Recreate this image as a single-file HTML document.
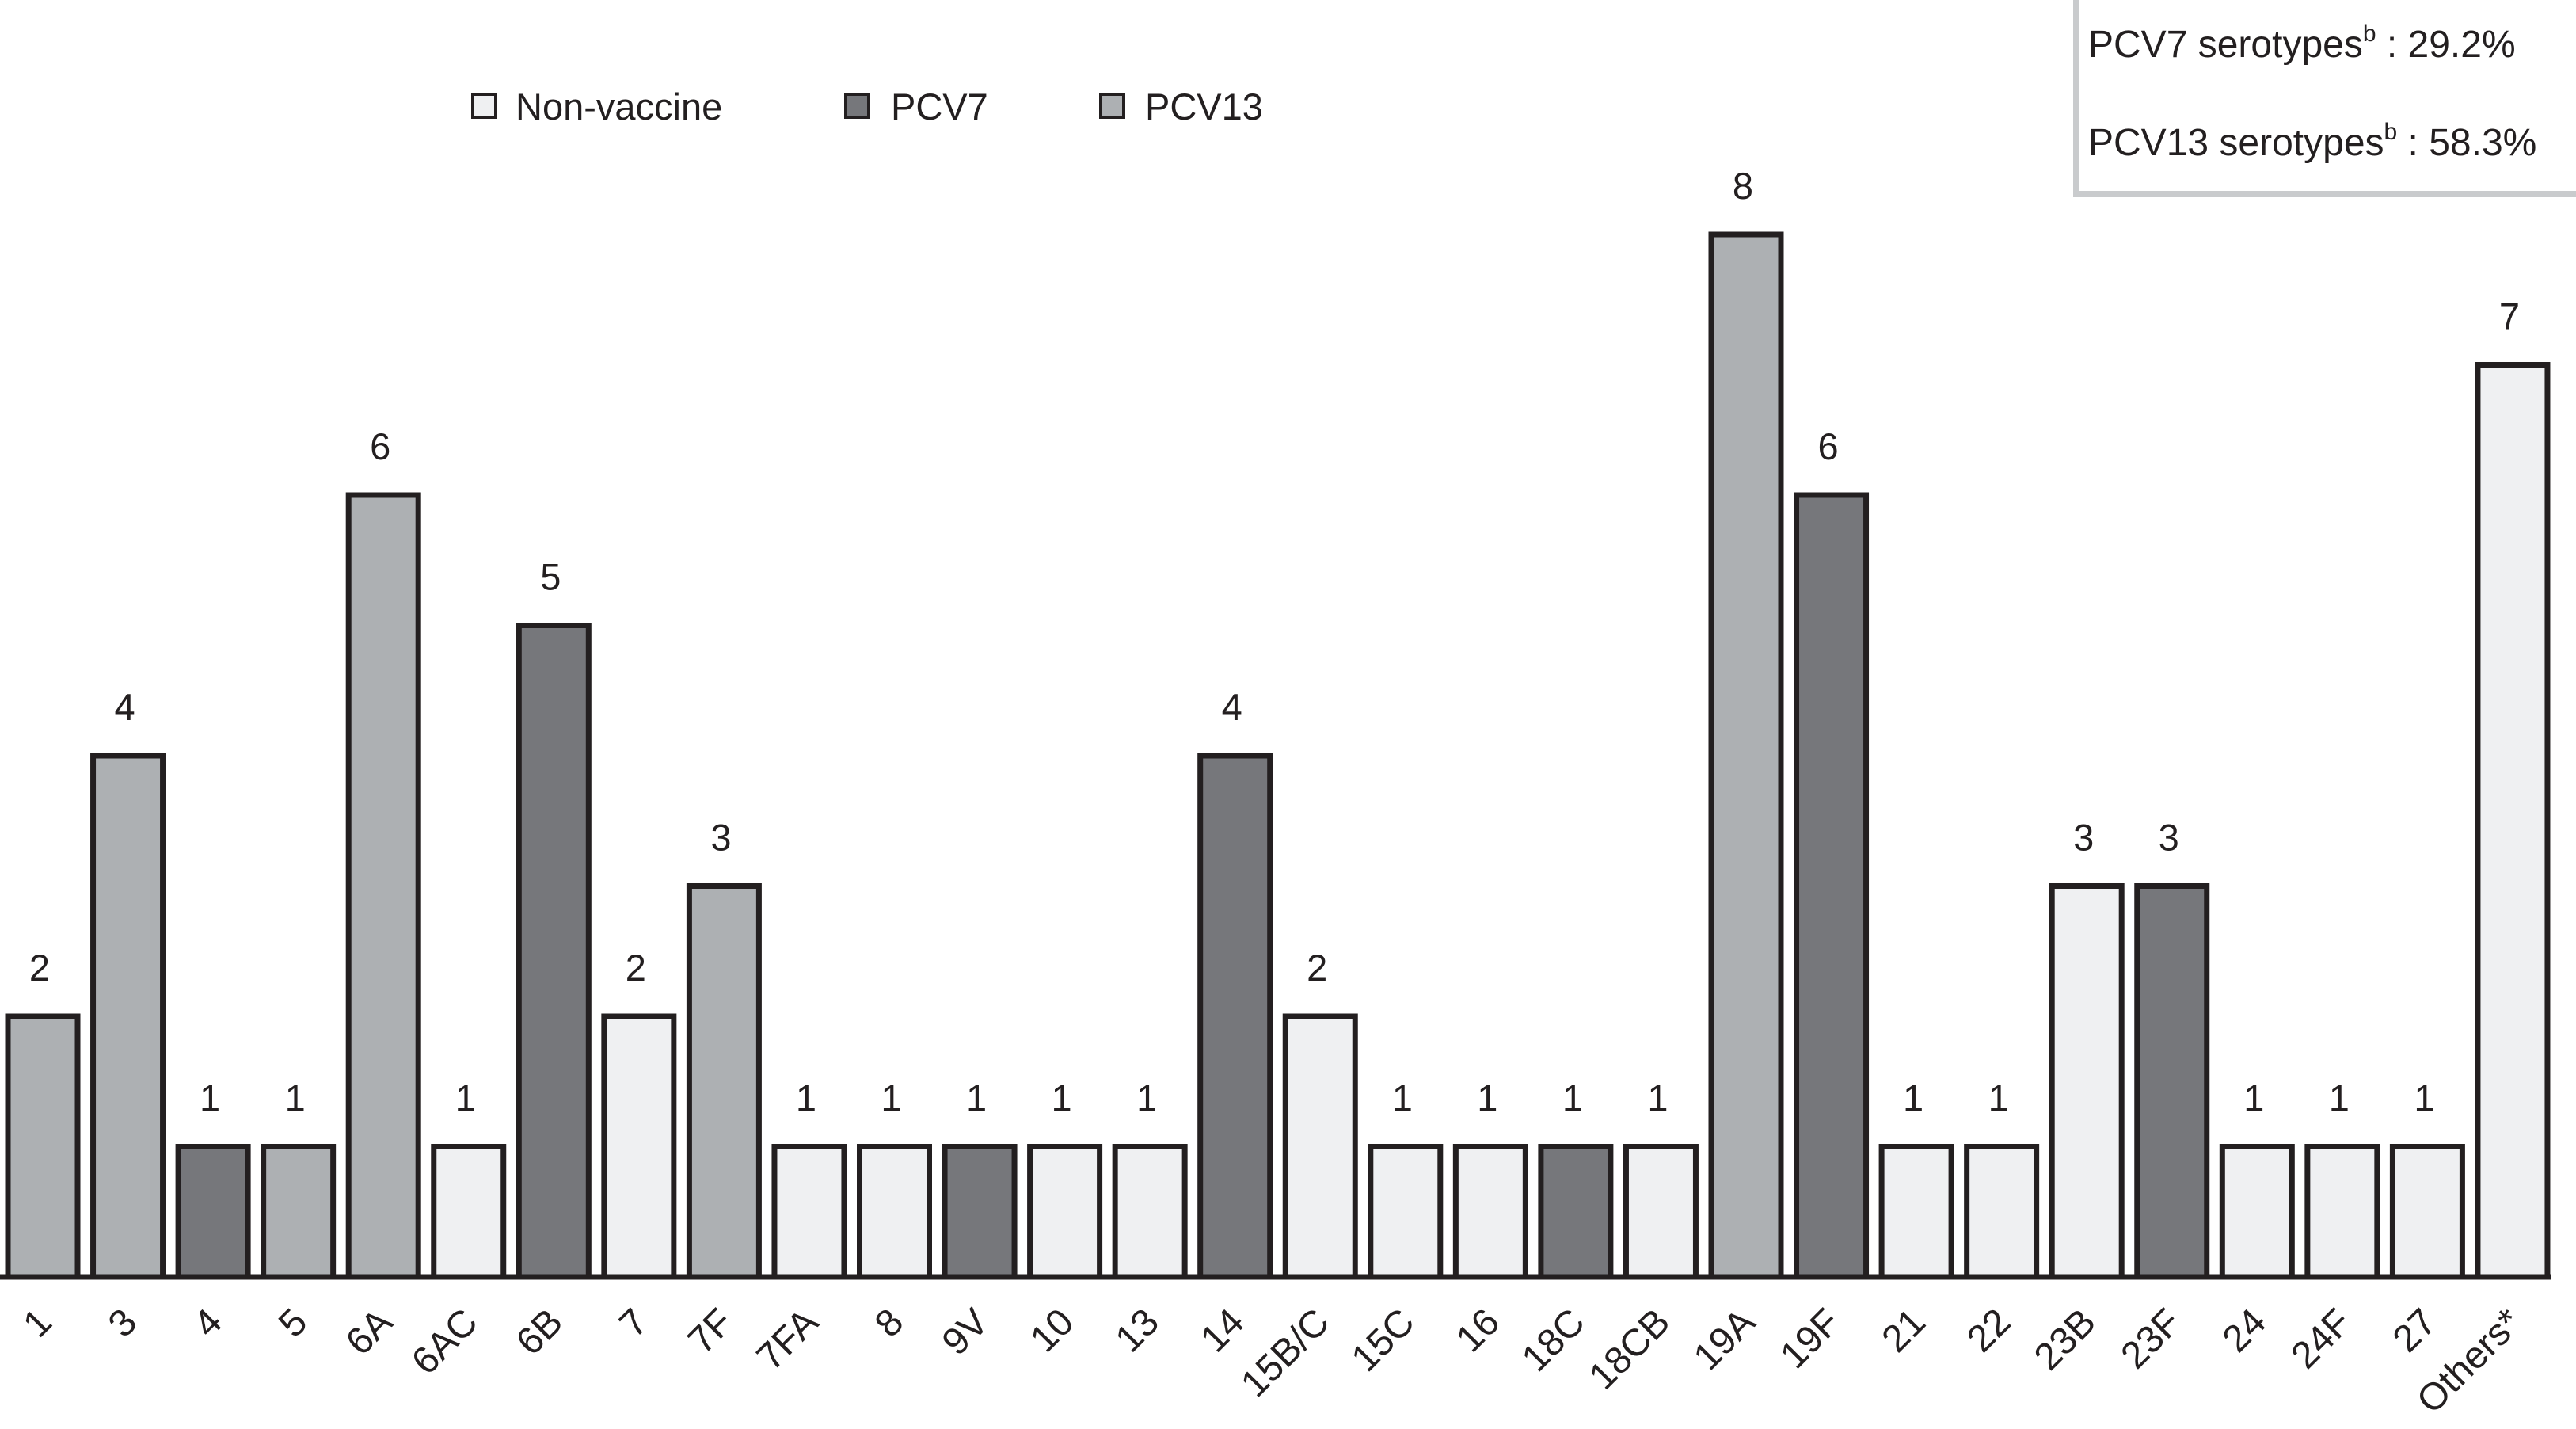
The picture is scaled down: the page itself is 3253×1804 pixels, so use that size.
<!DOCTYPE html>
<html><head><meta charset="utf-8"><style>
html,body{margin:0;padding:0;background:#fff;}
svg{display:block;font-family:"Liberation Sans",Arial,sans-serif;}
</style></head><body>
<svg id="chart" width="3253" height="1804" viewBox="0 0 3253 1804">
  <g>
    <rect x="597" y="119" width="29" height="29" fill="#eff0f2" stroke="#231f20" stroke-width="4"/>
    <text x="651" y="151" font-size="47" fill="#231f20">Non-vaccine</text>
    <rect x="1068" y="119" width="29" height="29" fill="#76777b" stroke="#231f20" stroke-width="4"/>
    <text x="1125" y="151" font-size="47" fill="#231f20">PCV7</text>
    <rect x="1390" y="119" width="29" height="29" fill="#adb0b3" stroke="#231f20" stroke-width="4"/>
    <text x="1446" y="151" font-size="47" fill="#231f20">PCV13</text>
  </g>
  <g>
    <rect x="2622" y="-10" width="650" height="255" fill="#fff" stroke="#c9cbcd" stroke-width="8"/>
    <text x="2637" y="72" font-size="48" fill="#231f20">PCV7 serotypes<tspan font-size="30" dy="-20">b</tspan><tspan dy="20"> : 29.2%</tspan></text>
    <text x="2637" y="196" font-size="48" fill="#231f20">PCV13 serotypes<tspan font-size="30" dy="-20">b</tspan><tspan dy="20"> : 58.3%</tspan></text>
  </g>
  <g id="bars"></g>
  <g id="labels"></g>
  <line x1="0" y1="1612" x2="3222" y2="1612" stroke="#231f20" stroke-width="7"/>
</svg>
<script>
const categories = ["1","3","4","5","6A","6AC","6B","7","7F","7FA","8","9V","10","13","14","15B/C","15C","16","18C","18CB","19A","19F","21","22","23B","23F","24","24F","27","Others*"];
const values = [2,4,1,1,6,1,5,2,3,1,1,1,1,1,4,2,1,1,1,1,8,6,1,1,3,3,1,1,1,7];
const groups = ["PCV13","PCV13","PCV7","PCV13","PCV13","Non","PCV7","Non","PCV13","Non","Non","PCV7","Non","Non","PCV7","Non","Non","Non","PCV7","Non","PCV13","PCV7","Non","Non","Non","PCV7","Non","Non","Non","Non"];
const fills = {PCV13:"#adb0b3", PCV7:"#76777b", Non:"#eff0f2"};
const NS = "http://www.w3.org/2000/svg";
const baseY = 1612, unit = 164.5, x0 = 54, pitch = 107.55, bw = 88;
function xScale(i){ return x0 + i*pitch; }
function yScale(v){ return baseY - v*unit; }
const gb = document.getElementById('bars');
const gl = document.getElementById('labels');
categories.forEach((c,i)=>{
  const cx = xScale(i), top = yScale(values[i]);
  const r = document.createElementNS(NS,'rect');
  r.setAttribute('x', cx - bw/2);
  r.setAttribute('y', top);
  r.setAttribute('width', bw);
  r.setAttribute('height', baseY - top);
  r.setAttribute('fill', fills[groups[i]]);
  r.setAttribute('stroke', '#231f20');
  r.setAttribute('stroke-width', '7');
  
  
  gb.appendChild(r);
  const t = document.createElementNS(NS,'text');
  t.setAttribute('x', cx - 4);
  t.setAttribute('y', top - 45);
  t.setAttribute('text-anchor', 'middle');
  t.setAttribute('font-size', '47');
  t.setAttribute('fill', '#231f20');
  t.textContent = values[i];
  
  
  gb.appendChild(t);
  const lx = cx + 14, ly = 1672;
  const l = document.createElementNS(NS,'text');
  l.setAttribute('x', lx);
  l.setAttribute('y', ly);
  l.setAttribute('text-anchor', 'end');
  l.setAttribute('font-size', '48');
  l.setAttribute('fill', '#231f20');
  l.setAttribute('transform', 'rotate(-45 ' + lx + ' ' + ly + ')');
  l.textContent = c;
  
  
  gl.appendChild(l);
});
</script>
</body></html>
